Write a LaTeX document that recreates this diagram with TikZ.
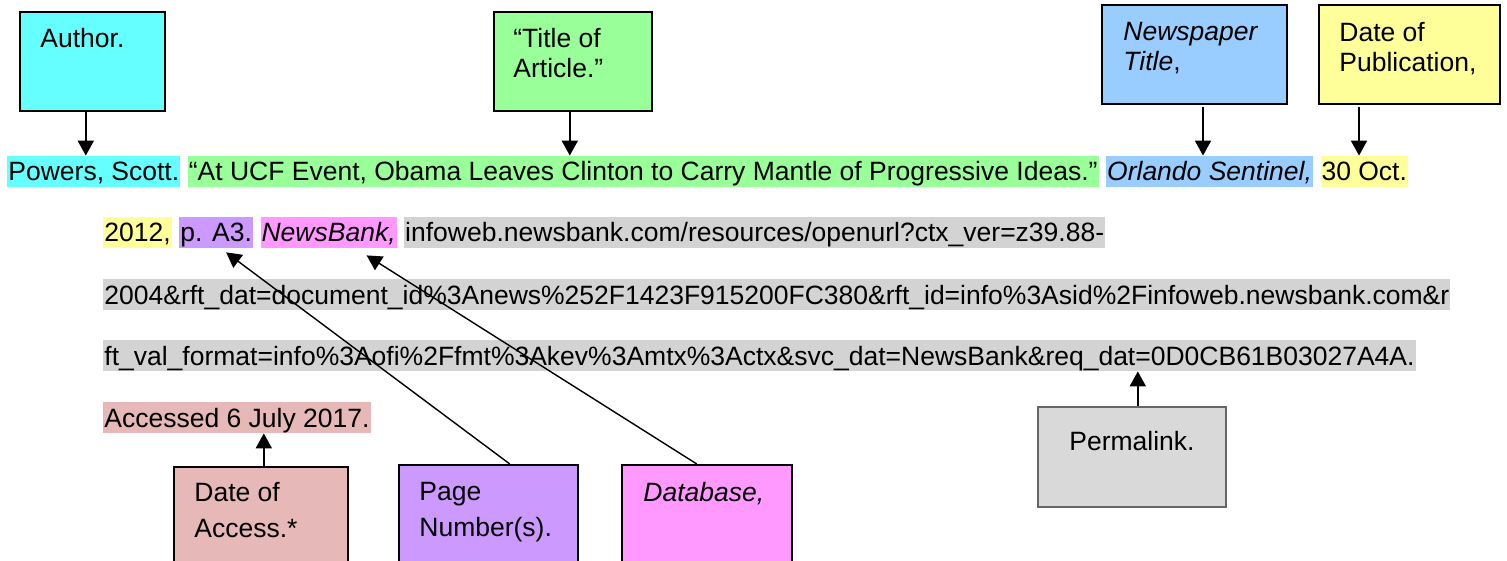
\documentclass[tikz,border=0pt]{standalone}
\usepackage{fontspec}
\setmainfont{Liberation Sans}
\usetikzlibrary{positioning}
\usetikzlibrary{arrows.meta}
\definecolor{authorcyan}{HTML}{66FFFF}
\definecolor{titlegreen}{HTML}{99FF99}
\definecolor{paperblue}{HTML}{99CCFF}
\definecolor{pubyellow}{HTML}{FFFF99}
\definecolor{pagepurple}{HTML}{CC99FF}
\definecolor{dbpink}{HTML}{FF99FF}
\definecolor{linkgray}{HTML}{D3D3D3}
\definecolor{plgray}{HTML}{D9D9D9}
\definecolor{accessrose}{HTML}{E6B8B7}
\tikzset{hl/.style={inner xsep=0.5pt, inner ysep=1pt, text height=11.5pt, text depth=2pt, font=\fontsize{13.25}{15}\selectfont}}
\tikzset{box/.style={draw=black, line width=0.8pt, anchor=north west, inner sep=0pt}}
\tikzset{boxtext/.style={anchor=north west, inner sep=0pt, align=left, font=\fontsize{13.25}{15}\selectfont}}
\tikzset{arr/.style={-{Triangle[length=7.5pt,width=8pt]}, line width=1pt}}

\begin{document}
\begin{tikzpicture}[x=0.5pt, y=-0.5pt]
    \useasboundingbox (0,0) rectangle (1507,561);

    % the citation, one highlighted run per part
    \node[hl, fill=authorcyan, anchor=base west] (pw) at (7,181) {Powers, Scott.};
    \node[hl, fill=titlegreen, base right=3.4pt of pw] (tt)
        {“At UCF Event, Obama Leaves Clinton to Carry Mantle of Progressive Ideas.”};
    \node[hl, fill=paperblue, base right=3.4pt of tt] (os) {\textit{Orlando Sentinel,}};
    \node[hl, fill=pubyellow, base right=3.4pt of os] (oct) {30 Oct.};

    \node[hl, fill=pubyellow, anchor=base west] (yr) at (103,242) {2012,};
    \node[hl, fill=pagepurple, base right=3.4pt of yr] (pa) {p. A3.};
    \node[hl, fill=dbpink, base right=3.4pt of pa] (nb) {\textit{NewsBank,}};
    \node[hl, fill=linkgray, base right=3.4pt of nb] (url1)
        {infoweb.newsbank.com/resources/openurl?ctx\_ver=z39.88-};
    \node[hl, fill=linkgray, anchor=base west] (url2) at (103,304)
        {2004\&rft\_dat=document\_id\%3Anews\%252F1423F915200FC380\&rft\_id=info\%3Asid\%2Finfoweb.newsbank.com\&r};
    \node[hl, fill=linkgray, anchor=base west] (url3) at (103,365)
        {ft\_val\_format=info\%3Aofi\%2Ffmt\%3Akev\%3Amtx\%3Actx\&svc\_dat=NewsBank\&req\_dat=0D0CB61B03027A4A.};
    \node[hl, fill=accessrose, anchor=base west] (acc) at (103,427) {Accessed 6 July 2017.};

    % boxes above
    \node[box, fill=authorcyan, minimum width=72.5pt, minimum height=49.5pt] (au) at (19,11) {};
    \node[boxtext] (auT) at (40,28) {Author.};
    \node[box, fill=titlegreen, minimum width=79pt, minimum height=49.5pt] (ti) at (493,11) {};
    \node[boxtext] (tiT) at (513,28) {“Title of\\Article.”};
    \node[box, fill=paperblue, minimum width=92.5pt, minimum height=49.5pt] (np) at (1101,4) {};
    \node[boxtext] (npT) at (1123,22) {\textit{Newspaper}\\\textit{Title},};
    \node[box, fill=pubyellow, minimum width=90.5pt, minimum height=49.5pt] (dp) at (1318,4) {};
    \node[boxtext] (dpT) at (1339,22) {Date of\\Publication,};

    % boxes below
    \node[box, fill=accessrose, minimum width=87pt, minimum height=55pt] (da) at (173,466) {};
    \node[boxtext, font=\fontsize{13.25}{18}\selectfont] (daT) at (194,482) {Date of\\Access.*};
    \node[box, fill=pagepurple, minimum width=89.5pt, minimum height=55pt] (pg) at (398,464) {};
    \node[boxtext, font=\fontsize{13.25}{18}\selectfont] (pgT) at (419,482) {Page\\Number(s).};
    \node[box, fill=dbpink, minimum width=85pt, minimum height=55pt] (db) at (621,464) {};
    \node[boxtext] (dbT) at (643,482) {\textit{Database,}};
    \node[box, draw=black!60, fill=plgray, minimum width=94pt, minimum height=50pt] (pl) at (1037,406) {};
    \node[boxtext] (plT) at (1069,431) {Permalink.};

    % arrows
    \coordinate (npS) at (1203,107);
    \coordinate (dpS) at (1359,107);
    \draw[arr] ([xshift=-3.25pt]au.south) -- ([xshift=-3.25pt]au.south |- pw.north);
    \draw[arr] ([xshift=-1.5pt]ti.south) -- ([xshift=-1.5pt]ti.south |- tt.north);
    \draw[arr] (npS) -- (npS |- os.north);
    \draw[arr] (dpS) -- (dpS |- oct.north);
    \draw[arr] ([xshift=1.5pt]da.north) -- ([xshift=1.5pt]da.north |- acc.south);
    \draw[arr] ([xshift=3pt]pl.north) -- ([xshift=3pt]pl.north |- url3.south);
    \draw[arr, line width=0.7pt] ([xshift=10.75pt]pg.north) -- ([xshift=5pt,yshift=-2pt]pa.south);
    \draw[arr, line width=0.7pt] ([xshift=-5pt]db.north) -- ([xshift=19pt,yshift=-3.5pt]nb.south);
\end{tikzpicture}
\end{document}
